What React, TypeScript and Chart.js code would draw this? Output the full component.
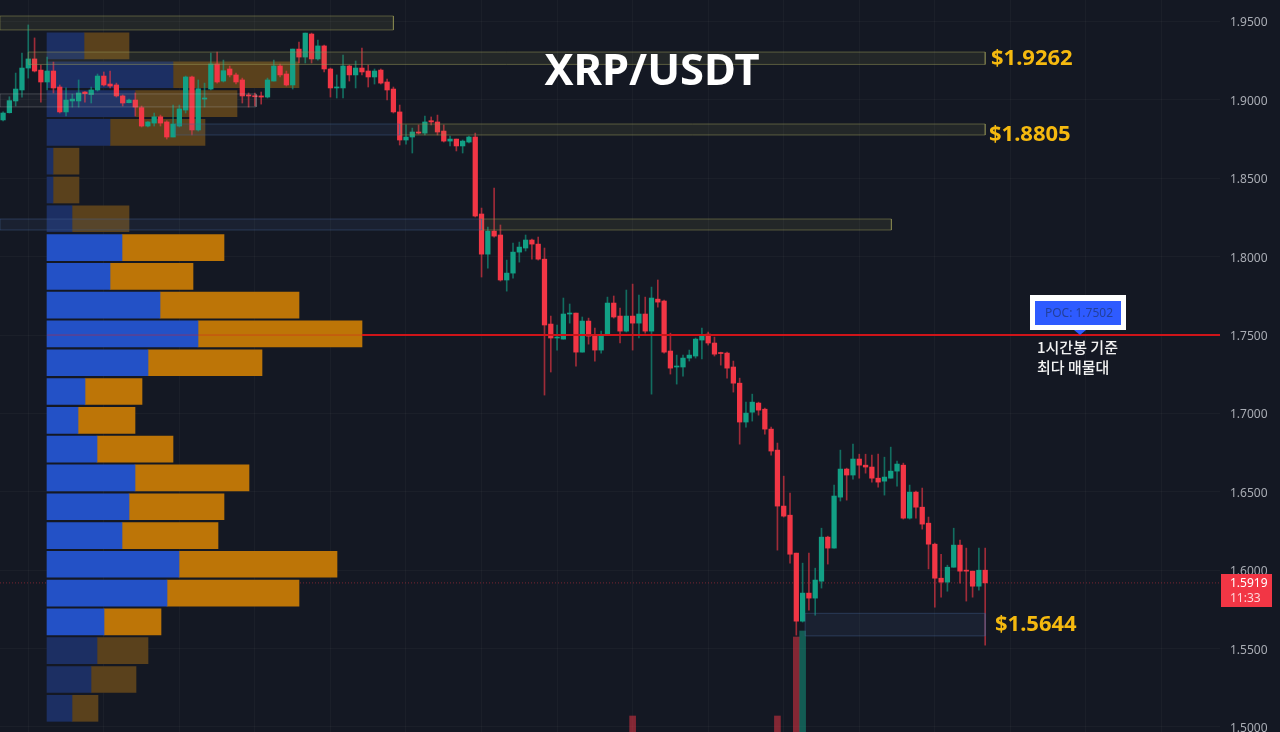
import { useEffect, useRef } from 'react';
import Chart from 'chart.js/auto';

// Candles, oldest first. x position is the array index.
const opens = [
  1.8872, 1.8918, 1.8993, 1.9063, 1.9203, 1.9261, 1.9190, 1.9114, 1.9184, 1.9082, 1.8923, 1.8993, 1.8993, 1.9050, 1.9034, 1.9063,
  1.9152, 1.9101, 1.9095, 1.9025, 1.8982, 1.8999, 1.8950, 1.8833, 1.8852, 1.8892, 1.8859, 1.8763, 1.8833, 1.8935, 1.9146, 1.8808,
  1.9005, 1.9069, 1.9229, 1.9120, 1.9197, 1.9159, 1.9127, 1.9031, 1.9026, 1.9025, 1.9018, 1.9120, 1.9216, 1.9165, 1.9095, 1.9324,
  1.9273, 1.9420, 1.9261, 1.9344, 1.9197, 1.9076, 1.9076, 1.9216, 1.9159, 1.9203, 1.9184, 1.9146, 1.9190, 1.9114, 1.9069, 1.8923,
  1.8744, 1.8763, 1.8795, 1.8788, 1.8867, 1.8859, 1.8801, 1.8737, 1.8750, 1.8706, 1.8731, 1.8763, 1.8272, 1.8016, 1.8163, 1.8138,
  1.7851, 1.7895, 1.8029, 1.8055, 1.8106, 1.8080, 1.7984, 1.7570, 1.7481, 1.7474, 1.7634, 1.7640, 1.7391, 1.7589, 1.7500, 1.7404,
  1.7500, 1.7704, 1.7621, 1.7525, 1.7621, 1.7576, 1.7634, 1.7525, 1.7729, 1.7717, 1.7398, 1.7296, 1.7296, 1.7353, 1.7366, 1.7468,
  1.7506, 1.7449, 1.7385, 1.7385, 1.7296, 1.7193, 1.6945, 1.7008, 1.7066, 1.7027, 1.6900, 1.6766, 1.6409, 1.6351, 1.6109, 1.5675,
  1.5854, 1.5822, 1.5930, 1.6211, 1.6141, 1.6466, 1.6645, 1.6607, 1.6709, 1.6670, 1.6658, 1.6587, 1.6568, 1.6587, 1.6632, 1.6670,
  1.6332, 1.6498, 1.6402, 1.6300, 1.6166, 1.5949, 1.5924, 1.6019, 1.6160, 1.6000, 1.5994, 1.5898, 1.6000,
];
const closes = [
  1.8916, 1.8995, 1.9069, 1.9203, 1.9261, 1.9184, 1.9114, 1.9184, 1.9076, 1.8923, 1.8999, 1.9005, 1.9044, 1.9040, 1.9063, 1.9152,
  1.9095, 1.9088, 1.9025, 1.8980, 1.8999, 1.8954, 1.8833, 1.8859, 1.8892, 1.8852, 1.8763, 1.8846, 1.8942, 1.9146, 1.8808, 1.9071,
  1.9012, 1.9229, 1.9114, 1.9186, 1.9159, 1.9114, 1.9025, 1.9025, 1.9020, 1.9018, 1.9127, 1.9216, 1.9159, 1.9095, 1.9324, 1.9273,
  1.9426, 1.9261, 1.9344, 1.9197, 1.9076, 1.9082, 1.9216, 1.9159, 1.9203, 1.9178, 1.9146, 1.9184, 1.9107, 1.9063, 1.8923, 1.8744,
  1.8763, 1.8795, 1.8788, 1.8859, 1.8859, 1.8795, 1.8737, 1.8750, 1.8706, 1.8737, 1.8763, 1.8259, 1.8016, 1.8163, 1.8131, 1.7851,
  1.7895, 1.8029, 1.8061, 1.8106, 1.8080, 1.7984, 1.7564, 1.7481, 1.7487, 1.7634, 1.7640, 1.7391, 1.7589, 1.7493, 1.7404, 1.7500,
  1.7704, 1.7615, 1.7525, 1.7621, 1.7576, 1.7634, 1.7525, 1.7736, 1.7710, 1.7391, 1.7289, 1.7299, 1.7353, 1.7372, 1.7474, 1.7493,
  1.7449, 1.7378, 1.7382, 1.7289, 1.7193, 1.6945, 1.7002, 1.7072, 1.7021, 1.6900, 1.6760, 1.6409, 1.6345, 1.6102, 1.5675, 1.5854,
  1.5822, 1.5937, 1.6211, 1.6141, 1.6473, 1.6645, 1.6607, 1.6709, 1.6670, 1.6658, 1.6587, 1.6562, 1.6594, 1.6632, 1.6677, 1.6332,
  1.6498, 1.6402, 1.6294, 1.6166, 1.5949, 1.5924, 1.6019, 1.6160, 1.5994, 1.5994, 1.5898, 1.6000, 1.5919,
];
const highs = [
  1.8923, 1.9020, 1.9171, 1.9299, 1.9478, 1.9395, 1.9222, 1.9273, 1.9241, 1.9095, 1.9076, 1.9037, 1.9127, 1.9053, 1.9082, 1.9165,
  1.9178, 1.9184, 1.9107, 1.9031, 1.9005, 1.9044, 1.8961, 1.8862, 1.8916, 1.8903, 1.8867, 1.8967, 1.8967, 1.9152, 1.9152, 1.9127,
  1.9107, 1.9299, 1.9305, 1.9254, 1.9216, 1.9171, 1.9139, 1.9044, 1.9044, 1.9050, 1.9139, 1.9254, 1.9229, 1.9184, 1.9324, 1.9369,
  1.9426, 1.9426, 1.9382, 1.9350, 1.9203, 1.9159, 1.9286, 1.9222, 1.9248, 1.9331, 1.9222, 1.9197, 1.9197, 1.9133, 1.9082, 1.8967,
  1.8840, 1.8820, 1.8840, 1.8897, 1.8891, 1.8903, 1.8840, 1.8769, 1.8750, 1.8744, 1.8769, 1.8788, 1.8310, 1.8189, 1.8438, 1.8202,
  1.7978, 1.8087, 1.8093, 1.8138, 1.8112, 1.8125, 1.8055, 1.7621, 1.7564, 1.7736, 1.7698, 1.7640, 1.7615, 1.7608, 1.7544, 1.7525,
  1.7742, 1.7749, 1.7672, 1.7787, 1.7825, 1.7755, 1.7742, 1.7806, 1.7851, 1.7723, 1.7512, 1.7372, 1.7372, 1.7404, 1.7481, 1.7544,
  1.7519, 1.7487, 1.7391, 1.7391, 1.7334, 1.7225, 1.7072, 1.7123, 1.7072, 1.7034, 1.6913, 1.6811, 1.6600, 1.6492, 1.6109, 1.6045,
  1.6109, 1.6013, 1.6268, 1.6217, 1.6543, 1.6766, 1.6651, 1.6804, 1.6740, 1.6740, 1.6734, 1.6740, 1.6721, 1.6785, 1.6696, 1.6683,
  1.6543, 1.6504, 1.6524, 1.6339, 1.6173, 1.6102, 1.6032, 1.6268, 1.6192, 1.6141, 1.5994, 1.6141, 1.6141,
];
const lows = [
  1.8865, 1.8916, 1.8961, 1.9018, 1.9139, 1.9178, 1.8986, 1.9063, 1.9044, 1.8916, 1.8897, 1.8954, 1.8954, 1.8986, 1.8980, 1.9056,
  1.9088, 1.9076, 1.9018, 1.8961, 1.8980, 1.8897, 1.8827, 1.8827, 1.8833, 1.8833, 1.8750, 1.8763, 1.8827, 1.8916, 1.8776, 1.8801,
  1.8954, 1.9063, 1.9107, 1.9114, 1.9146, 1.9101, 1.8980, 1.8954, 1.8961, 1.8973, 1.9012, 1.9120, 1.9146, 1.9088, 1.9069, 1.9235,
  1.9235, 1.9235, 1.9254, 1.9178, 1.9018, 1.9012, 1.9012, 1.9120, 1.9076, 1.9159, 1.9082, 1.9101, 1.9101, 1.8999, 1.8916, 1.8712,
  1.8718, 1.8661, 1.8782, 1.8776, 1.8840, 1.8776, 1.8731, 1.8706, 1.8674, 1.8661, 1.8725, 1.8253, 1.7870, 1.7927, 1.8125, 1.7844,
  1.7780, 1.7863, 1.7965, 1.8036, 1.7984, 1.7978, 1.7117, 1.7264, 1.7404, 1.7474, 1.7576, 1.7302, 1.7391, 1.7442, 1.7334, 1.7385,
  1.7500, 1.7608, 1.7449, 1.7519, 1.7404, 1.7481, 1.7512, 1.7123, 1.7678, 1.7385, 1.7251, 1.7187, 1.7238, 1.7334, 1.7353, 1.7347,
  1.7436, 1.7366, 1.7308, 1.7225, 1.7136, 1.6804, 1.6913, 1.6951, 1.6989, 1.6868, 1.6734, 1.6128, 1.6339, 1.6045, 1.5586, 1.5669,
  1.5745, 1.5713, 1.5886, 1.6039, 1.6141, 1.6441, 1.6447, 1.6581, 1.6587, 1.6619, 1.6562, 1.6530, 1.6479, 1.6587, 1.6536, 1.6326,
  1.6326, 1.6332, 1.6262, 1.6008, 1.5764, 1.5828, 1.5866, 1.6019, 1.5917, 1.5803, 1.5828, 1.5873, 1.5522,
];

// Trade volume columns along the bottom edge
const tradeIndexes = [100, 123, 126, 127];
const tradeVolumes = [16, 16, 95, 101];

// Volume profile rows, top to bottom
const profilePrices = [
  1.9344, 1.9160, 1.8976, 1.8793, 1.8609, 1.8425, 1.8242, 1.8058, 1.7874, 1.7691, 1.7507, 1.7323,
  1.7140, 1.6956, 1.6772, 1.6589, 1.6405, 1.6221, 1.6038, 1.5854, 1.5670, 1.5487, 1.5303, 1.5119,
];
const profileBuy = [37, 126, 88, 63, 6, 6, 25, 75, 63, 113, 151, 101, 38, 31, 50, 88, 82, 75, 132, 120, 57, 50, 44, 25];
const profileSell = [45, 126, 102, 95, 26, 26, 57, 102, 83, 139, 164, 114, 57, 57, 76, 114, 95, 96, 158, 132, 57, 51, 45, 26];

// Price zones
const zoneStarts = [-0.49, 4, -0.49, 27.3, 63, -0.49, 76, 127.4];
const zoneEnds = [62, 156, 40.2, 63, 156, 76, 141.1, 156];
const zoneTops = [1.9535, 1.9305, 1.9038, 1.8846, 1.8846, 1.8240, 1.8240, 1.5725];
const zoneBottoms = [1.9446, 1.9226, 1.8955, 1.8776, 1.8776, 1.8170, 1.8170, 1.5581];
const zoneKinds = ['olive', 'olive', 'slate', 'blue', 'olive', 'blue', 'olive', 'blue'];

const POC_PRICE = 1.75;
const LAST_PRICE = 1.5919;

const GRID_INDEXES = [4, 16, 28, 40, 52, 64, 76, 88, 100, 112, 124, 136, 148, 160, 172, 184];

const UP = '#12a085';
const DOWN = '#f23645';
const BG = '#141823';

const ZONE_STYLES: Record<string, { fill: string; line: string }> = {
  olive: { fill: 'rgba(150, 150, 80, 0.12)', line: 'rgba(150, 150, 85, 0.5)' },
  slate: { fill: 'rgba(170, 170, 170, 0.06)', line: 'rgba(190, 190, 190, 0.28)' },
  blue: { fill: 'rgba(70, 100, 150, 0.13)', line: 'rgba(70, 100, 150, 0.42)' },
};

const isDim = (i: number) => i < 7 || i > 20;

const annotations = {
  id: 'annotations',
  afterDraw(chart: Chart) {
    const { ctx } = chart;
    const text = (label: string, x: number, y: number, font: string, color: string, align: CanvasTextAlign = 'left') => {
      ctx.font = font;
      ctx.fillStyle = color;
      ctx.textAlign = align;
      ctx.textBaseline = 'middle';
      ctx.fillText(label, x, y);
    };
    ctx.save();
    text('XRP/USDT', 652, 73, 'bold 43.5px "Noto Sans"', '#ffffff', 'center');

    const gold = '#f5b90f';
    const goldFont = 'bold 22px "Noto Sans"';
    text('$1.9262', 991, 59, goldFont, gold);
    text('$1.8805', 989, 135, goldFont, gold);
    text('$1.5644', 995, 625, goldFont, gold);

    // POC callout
    ctx.fillStyle = '#2e5bff';
    ctx.beginPath();
    ctx.moveTo(1074, 330);
    ctx.lineTo(1086, 330);
    ctx.lineTo(1080, 335);
    ctx.fill();
    ctx.fillStyle = '#ffffff';
    ctx.fillRect(1030, 295, 96, 35);
    ctx.fillStyle = '#2e5bff';
    ctx.fillRect(1035, 301, 86, 24);
    text('POC: 1.7502', 1079, 314, '12px "Noto Sans"', '#23409c', 'center');

    const krFont = '500 15px "Noto Sans CJK KR"';
    text('1시간봉 기준', 1037, 347, krFont, '#f2f2f2');
    text('최다 매물대', 1037, 367, krFont, '#f2f2f2');

    // last price badge
    ctx.fillStyle = DOWN;
    ctx.fillRect(1221, 574, 51, 33);
    text('1.5919', 1230, 584, '12px "Noto Sans"', '#ffffff');
    text('11:33', 1230, 599, '12px "Noto Sans"', 'rgba(255, 255, 255, 0.8)');
    ctx.restore();
  },
};

const background = {
  id: 'background',
  beforeDraw(chart: Chart) {
    chart.ctx.save();
    chart.ctx.fillStyle = BG;
    chart.ctx.fillRect(0, 0, chart.width, chart.height);
    chart.ctx.restore();
  },
};

export default function App() {
  const canvasRef = useRef<HTMLCanvasElement | null>(null);

  useEffect(() => {
    const canvas = canvasRef.current;
    if (!canvas) return;

    const candleColor = (alpha: string) => opens.map((o, i) => (closes[i] >= o ? UP : DOWN) + alpha);
    const common = { grouped: false, barPercentage: 1, categoryPercentage: 1, borderWidth: 0 };

    const zoneDatasets = zoneStarts.map((start, i) => {
      const style = ZONE_STYLES[zoneKinds[i]];
      return {
        type: 'line' as const,
        order: 10,
        data: [
          { x: start, y: zoneTops[i] },
          { x: zoneEnds[i], y: zoneTops[i] },
          { x: zoneEnds[i], y: zoneBottoms[i] },
          { x: start, y: zoneBottoms[i] },
          { x: start, y: zoneTops[i] },
        ],
        xAxisID: 'x',
        yAxisID: 'y',
        borderColor: style.line,
        borderWidth: 1,
        backgroundColor: style.fill,
        fill: 'shape',
        pointRadius: 0,
        tension: 0,
      };
    });

    const levelLine = (x0: number, x1: number, y: number, color: string, width: number, order: number, dash: number[] = []) => ({
      type: 'line' as const,
      order,
      data: [{ x: x0, y }, { x: x1, y }],
      xAxisID: 'x',
      yAxisID: 'y',
      borderColor: color,
      borderWidth: width,
      borderDash: dash,
      pointRadius: 0,
      fill: false,
    });

    const chart = new Chart(canvas, {
      type: 'bar',
      data: {
        datasets: [
          {
            ...common,
            order: 40,
            indexAxis: 'y',
            xAxisID: 'xProfile',
            yAxisID: 'y',
            barThickness: 26,
            maxBarThickness: 26,
            data: profilePrices.map((y, i) => ({ x: [0, profileBuy[i]], y })),
            backgroundColor: profilePrices.map((_, i) => (isDim(i) ? '#1c2f63' : '#2351c6')),
          },
          {
            ...common,
            order: 40,
            indexAxis: 'y',
            xAxisID: 'xProfile',
            yAxisID: 'y',
            barThickness: 26,
            maxBarThickness: 26,
            data: profilePrices.map((y, i) => ({ x: [profileBuy[i], profileBuy[i] + profileSell[i]], y })),
            backgroundColor: profilePrices.map((_, i) => (isDim(i) ? '#5a411c' : '#bd7507')),
          },
          {
            ...common,
            order: 35,
            xAxisID: 'x',
            yAxisID: 'yTrade',
            barThickness: 6,
            maxBarThickness: 6,
            data: tradeIndexes.map((x, i) => ({ x, y: tradeVolumes[i] })),
            backgroundColor: tradeIndexes.map((x) => (closes[x] >= opens[x] ? 'rgba(18, 160, 133, 0.5)' : 'rgba(242, 54, 69, 0.5)')),
          },
          {
            ...common,
            order: 30,
            xAxisID: 'x',
            yAxisID: 'y',
            barThickness: 1,
            maxBarThickness: 1,
            data: opens.map((_, i) => ({ x: i, y: [lows[i], highs[i]] })),
            backgroundColor: candleColor('a0'),
          },
          {
            ...common,
            order: 20,
            xAxisID: 'x',
            yAxisID: 'y',
            barThickness: 4.6,
            maxBarThickness: 4.6,
            minBarLength: 1,
            data: opens.map((o, i) => ({ x: i, y: [o, closes[i]] })),
            backgroundColor: candleColor(''),
          },
          ...zoneDatasets,
          levelLine(-0.49, 193.3, LAST_PRICE, 'rgba(242, 54, 69, 0.45)', 1, 45, [1, 2]),
          levelLine(7, 57, POC_PRICE, 'rgba(215, 30, 35, 0.5)', 1, 5),
          levelLine(57, 193.3, POC_PRICE, '#cf1419', 2, 5),
        ],
      } as any,
      options: {
        responsive: false,
        animation: false,
        layout: { padding: 0 },
        plugins: { legend: { display: false }, tooltip: { enabled: false } },
        scales: {
          x: {
            type: 'linear',
            position: 'bottom',
            min: -0.49,
            max: 193.3,
            offset: false,
            border: { display: false },
            grid: { color: 'rgba(255, 255, 255, 0.03)', drawTicks: false, offset: false },
            ticks: { display: false },
            afterBuildTicks: (axis: any) => {
              axis.ticks = GRID_INDEXES.map((value) => ({ value }));
            },
            afterFit: (axis: any) => {
              axis.height = 0;
              axis.paddingLeft = 0;
              axis.paddingRight = 0;
            },
          },
          xProfile: { type: 'linear', axis: 'x', display: false, min: -47, max: 1173, offset: false },
          y: {
            type: 'linear',
            position: 'right',
            min: 1.4968,
            max: 1.9637,
            offset: false,
            beginAtZero: false,
            border: { display: false },
            grid: { color: 'rgba(255, 255, 255, 0.03)', drawTicks: false, offset: false },
            ticks: {
              stepSize: 0.05,
              includeBounds: false,
              padding: 10,
              labelOffset: 1.5,
              color: '#a9acb4',
              font: { family: '"Noto Sans"', size: 12 },
              callback: (val: any) => Number(val).toFixed(4),
            },
            afterFit: (axis: any) => {
              axis.width = 60;
              axis.paddingTop = 0;
              axis.paddingBottom = 0;
            },
          },
          yTrade: { type: 'linear', axis: 'y', display: false, min: 0, max: 732, offset: false },
        },
      } as any,
      plugins: [background, annotations],
    });

    return () => chart.destroy();
  }, []);

  return (
    <div style={{ position: 'fixed', left: 0, top: 0, width: 1280, height: 732, background: BG }}>
      <canvas ref={canvasRef} width={1280} height={732} style={{ display: 'block' }} />
    </div>
  );
}
